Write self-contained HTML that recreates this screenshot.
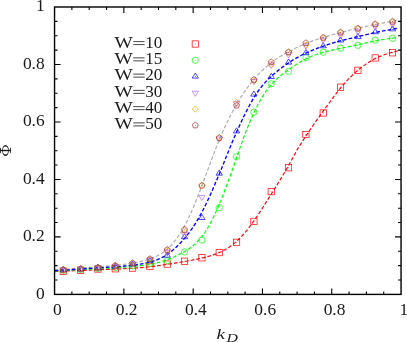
<!DOCTYPE html>
<html><head><meta charset="utf-8"><title>chart</title>
<style>html,body{margin:0;padding:0;background:#fff;overflow:hidden}svg{display:block}text{font-family:"Liberation Serif",serif;fill:#1a1a1a}g.tx{filter:grayscale(1)}</style></head><body>
<svg width="407" height="342" viewBox="0 0 407 342">
<rect x="0" y="0" width="407" height="342" fill="#ffffff"/>
<g fill="none" stroke-dasharray="3.7 2" stroke-linecap="butt">
<path d="M54.60,270.12 L56.03,269.99 L57.46,269.88 L58.89,269.76 L60.32,269.64 L61.75,269.53 L63.18,269.42 L64.61,269.31 L66.04,269.20 L67.47,269.09 L68.90,268.98 L70.33,268.88 L71.76,268.77 L73.19,268.66 L74.62,268.55 L76.05,268.44 L77.48,268.33 L78.91,268.22 L80.34,268.11 L81.76,268.00 L83.19,267.89 L84.62,267.77 L86.05,267.66 L87.48,267.55 L88.91,267.44 L90.34,267.33 L91.77,267.21 L93.20,267.10 L94.63,266.99 L96.06,266.88 L97.49,266.77 L98.92,266.66 L100.35,266.55 L101.78,266.44 L103.21,266.32 L104.64,266.21 L106.07,266.10 L107.50,265.98 L108.93,265.86 L110.36,265.74 L111.79,265.61 L113.22,265.49 L114.65,265.35 L116.08,265.22 L117.51,265.07 L118.94,264.92 L120.37,264.77 L121.80,264.61 L123.23,264.44 L124.66,264.26 L126.09,264.07 L127.52,263.87 L128.95,263.67 L130.38,263.45 L131.81,263.23 L133.23,262.99 L134.66,262.74 L136.09,262.47 L137.52,262.19 L138.95,261.90 L140.38,261.59 L141.81,261.26 L143.24,260.91 L144.67,260.53 L146.10,260.13 L147.53,259.70 L148.96,259.24 L150.39,258.75 L151.82,258.22 L153.25,257.65 L154.68,257.03 L156.11,256.37 L157.54,255.65 L158.97,254.88 L160.40,254.04 L161.83,253.14 L163.26,252.16 L164.69,251.11 L166.12,249.97 L167.55,248.75 L168.98,247.44 L170.41,246.03 L171.84,244.52 L173.27,242.91 L174.70,241.18 L176.13,239.33 L177.56,237.37 L178.99,235.28 L180.42,233.06 L181.85,230.72 L183.28,228.25 L184.70,225.64 L186.13,222.91 L187.56,220.05 L188.99,217.07 L190.42,213.96 L191.85,210.74 L193.28,207.42 L194.71,204.00 L196.14,200.50 L197.57,196.92 L199.00,193.28 L200.43,189.58 L201.86,185.85 L203.29,182.09 L204.72,178.31 L206.15,174.42 L207.58,170.48 L209.01,166.56 L210.44,162.68 L211.87,158.83 L213.30,155.04 L214.73,151.31 L216.16,147.64 L217.59,144.05 L219.02,140.54 L220.45,137.11 L221.88,133.77 L223.31,130.52 L224.74,127.35 L226.17,124.27 L227.60,121.28 L229.03,118.37 L230.46,115.55 L231.89,112.80 L233.32,110.13 L234.75,107.54 L236.18,105.02 L237.60,102.57 L239.03,100.19 L240.46,97.88 L241.89,95.63 L243.32,93.46 L244.75,91.36 L246.18,89.32 L247.61,87.34 L249.04,85.43 L250.47,83.58 L251.90,81.80 L253.33,80.07 L254.76,78.40 L256.19,76.78 L257.62,75.22 L259.05,73.71 L260.48,72.25 L261.91,70.83 L263.34,69.47 L264.77,68.15 L266.20,66.87 L267.63,65.64 L269.06,64.45 L270.49,63.30 L271.92,62.20 L273.35,61.13 L274.78,60.10 L276.21,59.11 L277.64,58.15 L279.07,57.22 L280.50,56.33 L281.93,55.45 L283.36,54.61 L284.79,53.78 L286.22,52.98 L287.65,52.19 L289.07,51.42 L290.50,50.67 L291.93,49.93 L293.36,49.20 L294.79,48.49 L296.22,47.79 L297.65,47.10 L299.08,46.44 L300.51,45.78 L301.94,45.14 L303.37,44.52 L304.80,43.92 L306.23,43.34 L307.66,42.77 L309.09,42.21 L310.52,41.68 L311.95,41.16 L313.38,40.65 L314.81,40.16 L316.24,39.68 L317.67,39.21 L319.10,38.75 L320.53,38.30 L321.96,37.85 L323.39,37.42 L324.82,36.99 L326.25,36.56 L327.68,36.14 L329.11,35.72 L330.54,35.31 L331.97,34.91 L333.40,34.51 L334.83,34.11 L336.26,33.72 L337.69,33.33 L339.12,32.95 L340.55,32.58 L341.97,32.20 L343.40,31.84 L344.83,31.48 L346.26,31.12 L347.69,30.76 L349.12,30.41 L350.55,30.06 L351.98,29.72 L353.41,29.37 L354.84,29.03 L356.27,28.69 L357.70,28.36 L359.13,28.02 L360.56,27.68 L361.99,27.35 L363.42,27.02 L364.85,26.70 L366.28,26.37 L367.71,26.05 L369.14,25.74 L370.57,25.43 L372.00,25.13 L373.43,24.83 L374.86,24.54 L376.29,24.26 L377.72,23.98 L379.15,23.70 L380.58,23.43 L382.01,23.17 L383.44,22.90 L384.87,22.64 L386.30,22.37 L387.73,22.11 L389.16,21.84 L390.59,21.57 L392.02,21.30 L393.44,21.02 L394.87,20.74 L396.30,20.46 L397.73,20.17" stroke="#ababab" stroke-width="1.15"/>
<path d="M54.60,271.59 L56.03,271.52 L57.46,271.46 L58.89,271.39 L60.32,271.33 L61.75,271.26 L63.18,271.20 L64.61,271.14 L66.04,271.07 L67.47,271.01 L68.90,270.95 L70.33,270.89 L71.76,270.83 L73.19,270.77 L74.62,270.72 L76.05,270.66 L77.48,270.60 L78.91,270.54 L80.34,270.48 L81.76,270.43 L83.19,270.37 L84.62,270.32 L86.05,270.26 L87.48,270.21 L88.91,270.15 L90.34,270.10 L91.77,270.05 L93.20,269.99 L94.63,269.94 L96.06,269.89 L97.49,269.84 L98.92,269.79 L100.35,269.73 L101.78,269.68 L103.21,269.63 L104.64,269.58 L106.07,269.52 L107.50,269.47 L108.93,269.41 L110.36,269.36 L111.79,269.30 L113.22,269.24 L114.65,269.18 L116.08,269.12 L117.51,269.06 L118.94,268.99 L120.37,268.93 L121.80,268.86 L123.23,268.79 L124.66,268.72 L126.09,268.64 L127.52,268.56 L128.95,268.48 L130.38,268.40 L131.81,268.31 L133.23,268.22 L134.66,268.12 L136.09,268.02 L137.52,267.91 L138.95,267.80 L140.38,267.68 L141.81,267.56 L143.24,267.43 L144.67,267.29 L146.10,267.15 L147.53,267.00 L148.96,266.84 L150.39,266.68 L151.82,266.51 L153.25,266.33 L154.68,266.15 L156.11,265.96 L157.54,265.76 L158.97,265.56 L160.40,265.35 L161.83,265.14 L163.26,264.93 L164.69,264.71 L166.12,264.49 L167.55,264.27 L168.98,264.04 L170.41,263.81 L171.84,263.59 L173.27,263.36 L174.70,263.13 L176.13,262.90 L177.56,262.67 L178.99,262.43 L180.42,262.20 L181.85,261.96 L183.28,261.72 L184.70,261.48 L186.13,261.23 L187.56,260.98 L188.99,260.73 L190.42,260.47 L191.85,260.21 L193.28,259.93 L194.71,259.66 L196.14,259.37 L197.57,259.07 L199.00,258.77 L200.43,258.45 L201.86,258.12 L203.29,257.78 L204.72,257.42 L206.15,257.04 L207.58,256.65 L209.01,256.24 L210.44,255.81 L211.87,255.35 L213.30,254.86 L214.73,254.35 L216.16,253.81 L217.59,253.24 L219.02,252.63 L220.45,251.98 L221.88,251.29 L223.31,250.56 L224.74,249.79 L226.17,248.97 L227.60,248.09 L229.03,247.17 L230.46,246.18 L231.89,245.14 L233.32,244.04 L234.75,242.88 L236.18,241.65 L237.60,240.35 L239.03,238.99 L240.46,237.57 L241.89,236.07 L243.32,234.51 L244.75,232.88 L246.18,231.19 L247.61,229.43 L249.04,227.61 L250.47,225.72 L251.90,223.79 L253.33,221.79 L254.76,219.75 L256.19,217.66 L257.62,215.53 L259.05,213.36 L260.48,211.17 L261.91,208.94 L263.34,206.70 L264.77,204.44 L266.20,202.17 L267.63,199.89 L269.06,197.61 L270.49,195.33 L271.92,193.05 L273.35,190.77 L274.78,188.49 L276.21,186.21 L277.64,183.91 L279.07,181.60 L280.50,179.27 L281.93,176.92 L283.36,174.54 L284.79,172.13 L286.22,169.69 L287.65,167.20 L289.07,164.68 L290.50,162.13 L291.93,159.53 L293.36,156.91 L294.79,154.26 L296.22,151.59 L297.65,148.91 L299.08,146.62 L300.51,144.38 L301.94,142.14 L303.37,139.92 L304.80,137.71 L306.23,135.53 L307.66,133.37 L309.09,131.24 L310.52,129.13 L311.95,127.05 L313.38,124.99 L314.81,122.94 L316.24,120.92 L317.67,118.91 L319.10,116.90 L320.53,114.90 L321.96,112.91 L323.39,110.92 L324.82,108.93 L326.25,106.95 L327.68,104.97 L329.11,103.00 L330.54,101.05 L331.97,99.11 L333.40,97.18 L334.83,95.29 L336.26,93.42 L337.69,91.58 L339.12,89.79 L340.55,88.03 L341.97,86.31 L343.40,84.64 L344.83,83.02 L346.26,81.44 L347.69,79.91 L349.12,78.42 L350.55,76.98 L351.98,75.58 L353.41,74.23 L354.84,72.92 L356.27,71.65 L357.70,70.42 L359.13,69.23 L360.56,68.09 L361.99,66.98 L363.42,65.90 L364.85,64.87 L366.28,63.88 L367.71,62.93 L369.14,62.02 L370.57,61.15 L372.00,60.32 L373.43,59.53 L374.86,58.79 L376.29,58.08 L377.72,57.41 L379.15,56.77 L380.58,56.17 L382.01,55.60 L383.44,55.07 L384.87,54.56 L386.30,54.07 L387.73,53.61 L389.16,53.17 L390.59,52.75 L392.02,52.34 L393.44,51.96 L394.87,51.58 L396.30,51.22 L397.73,50.87" stroke="#ff0000" stroke-width="1.15"/>
<path d="M54.60,271.07 L56.03,270.98 L57.46,270.89 L58.89,270.81 L60.32,270.72 L61.75,270.64 L63.18,270.56 L64.61,270.48 L66.04,270.40 L67.47,270.32 L68.90,270.24 L70.33,270.17 L71.76,270.09 L73.19,270.01 L74.62,269.93 L76.05,269.86 L77.48,269.78 L78.91,269.70 L80.34,269.62 L81.76,269.54 L83.19,269.47 L84.62,269.39 L86.05,269.31 L87.48,269.24 L88.91,269.16 L90.34,269.08 L91.77,269.01 L93.20,268.93 L94.63,268.86 L96.06,268.78 L97.49,268.71 L98.92,268.63 L100.35,268.56 L101.78,268.48 L103.21,268.41 L104.64,268.33 L106.07,268.26 L107.50,268.18 L108.93,268.10 L110.36,268.02 L111.79,267.94 L113.22,267.85 L114.65,267.76 L116.08,267.68 L117.51,267.58 L118.94,267.49 L120.37,267.39 L121.80,267.29 L123.23,267.19 L124.66,267.08 L126.09,266.97 L127.52,266.85 L128.95,266.73 L130.38,266.61 L131.81,266.48 L133.23,266.34 L134.66,266.20 L136.09,266.06 L137.52,265.91 L138.95,265.76 L140.38,265.59 L141.81,265.42 L143.24,265.25 L144.67,265.06 L146.10,264.86 L147.53,264.65 L148.96,264.43 L150.39,264.19 L151.82,263.94 L153.25,263.66 L154.68,263.36 L156.11,263.05 L157.54,262.70 L158.97,262.33 L160.40,261.93 L161.83,261.51 L163.26,261.06 L164.69,260.58 L166.12,260.07 L167.55,259.53 L168.98,258.98 L170.41,258.40 L171.84,257.79 L173.27,257.17 L174.70,256.53 L176.13,255.87 L177.56,255.18 L178.99,254.48 L180.42,253.75 L181.85,253.00 L183.28,252.22 L184.70,251.41 L186.13,250.56 L187.56,249.66 L188.99,248.71 L190.42,247.70 L191.85,246.62 L193.28,245.47 L194.71,244.24 L196.14,242.91 L197.57,241.49 L199.00,239.95 L200.43,238.31 L201.86,236.54 L203.29,234.64 L204.72,232.62 L206.15,230.45 L207.58,228.15 L209.01,225.71 L210.44,223.13 L211.87,220.41 L213.30,217.55 L214.73,214.56 L216.16,211.45 L217.59,208.21 L219.02,204.86 L220.45,201.40 L221.88,197.85 L223.31,194.21 L224.74,190.50 L226.17,186.71 L227.60,182.87 L229.03,178.98 L230.46,175.06 L231.89,171.12 L233.32,167.15 L234.75,162.99 L236.18,158.85 L237.60,154.72 L239.03,150.64 L240.46,146.60 L241.89,142.62 L243.32,138.72 L244.75,134.89 L246.18,131.15 L247.61,127.51 L249.04,123.98 L250.47,120.56 L251.90,117.25 L253.33,114.07 L254.76,111.01 L256.19,108.08 L257.62,105.27 L259.05,102.59 L260.48,100.04 L261.91,97.61 L263.34,95.31 L264.77,93.13 L266.20,91.07 L267.63,89.12 L269.06,87.29 L270.49,85.56 L271.92,83.92 L273.35,82.39 L274.78,80.93 L276.21,79.56 L277.64,78.25 L279.07,77.00 L280.50,75.81 L281.93,74.66 L283.36,73.55 L284.79,72.47 L286.22,71.42 L287.65,70.38 L289.07,69.36 L290.50,68.36 L291.93,67.37 L293.36,66.40 L294.79,65.45 L296.22,64.51 L297.65,63.59 L299.08,62.70 L300.51,61.83 L301.94,60.99 L303.37,60.18 L304.80,59.41 L306.23,58.67 L307.66,57.97 L309.09,57.30 L310.52,56.67 L311.95,56.07 L313.38,55.51 L314.81,54.98 L316.24,54.47 L317.67,53.99 L319.10,53.53 L320.53,53.10 L321.96,52.68 L323.39,52.29 L324.82,51.90 L326.25,51.53 L327.68,51.17 L329.11,50.82 L330.54,50.49 L331.97,50.16 L333.40,49.84 L334.83,49.52 L336.26,49.22 L337.69,48.92 L339.12,48.62 L340.55,48.33 L341.97,48.05 L343.40,47.76 L344.83,47.48 L346.26,47.20 L347.69,46.91 L349.12,46.63 L350.55,46.34 L351.98,46.05 L353.41,45.75 L354.84,45.45 L356.27,45.14 L357.70,44.82 L359.13,44.50 L360.56,44.18 L361.99,43.85 L363.42,43.51 L364.85,43.18 L366.28,42.85 L367.71,42.52 L369.14,42.19 L370.57,41.87 L372.00,41.56 L373.43,41.26 L374.86,40.97 L376.29,40.69 L377.72,40.42 L379.15,40.17 L380.58,39.92 L382.01,39.68 L383.44,39.45 L384.87,39.23 L386.30,39.01 L387.73,38.80 L389.16,38.59 L390.59,38.38 L392.02,38.16 L393.44,37.95 L394.87,37.73 L396.30,37.50 L397.73,37.27" stroke="#00ff00" stroke-width="1.15"/>
<path d="M54.60,270.61 L56.03,270.54 L57.46,270.47 L58.89,270.39 L60.32,270.31 L61.75,270.23 L63.18,270.15 L64.61,270.07 L66.04,269.99 L67.47,269.90 L68.90,269.81 L70.33,269.72 L71.76,269.63 L73.19,269.54 L74.62,269.45 L76.05,269.35 L77.48,269.26 L78.91,269.16 L80.34,269.07 L81.76,268.97 L83.19,268.87 L84.62,268.78 L86.05,268.68 L87.48,268.58 L88.91,268.49 L90.34,268.39 L91.77,268.30 L93.20,268.20 L94.63,268.11 L96.06,268.01 L97.49,267.92 L98.92,267.83 L100.35,267.74 L101.78,267.65 L103.21,267.56 L104.64,267.47 L106.07,267.38 L107.50,267.29 L108.93,267.20 L110.36,267.10 L111.79,267.01 L113.22,266.92 L114.65,266.82 L116.08,266.72 L117.51,266.61 L118.94,266.50 L120.37,266.39 L121.80,266.28 L123.23,266.15 L124.66,266.03 L126.09,265.89 L127.52,265.75 L128.95,265.60 L130.38,265.45 L131.81,265.28 L133.23,265.11 L134.66,264.93 L136.09,264.73 L137.52,264.53 L138.95,264.31 L140.38,264.09 L141.81,263.84 L143.24,263.59 L144.67,263.31 L146.10,263.01 L147.53,262.70 L148.96,262.35 L150.39,261.98 L151.82,261.58 L153.25,261.14 L154.68,260.67 L156.11,260.15 L157.54,259.58 L158.97,258.97 L160.40,258.31 L161.83,257.59 L163.26,256.81 L164.69,255.98 L166.12,255.09 L167.55,254.13 L168.98,253.12 L170.41,252.05 L171.84,250.92 L173.27,249.74 L174.70,248.49 L176.13,247.19 L177.56,245.83 L178.99,244.42 L180.42,242.95 L181.85,241.41 L183.28,239.82 L184.70,238.17 L186.13,236.44 L187.56,234.65 L188.99,232.79 L190.42,230.85 L191.85,228.83 L193.28,226.73 L194.71,224.55 L196.14,222.27 L197.57,219.90 L199.00,217.44 L200.43,214.88 L201.86,212.23 L203.29,209.49 L204.72,206.66 L206.15,203.74 L207.58,200.74 L209.01,197.66 L210.44,194.52 L211.87,191.31 L213.30,188.05 L214.73,184.75 L216.16,181.41 L217.59,178.05 L219.02,174.68 L220.45,171.30 L221.88,167.78 L223.31,164.15 L224.74,160.54 L226.17,156.96 L227.60,153.41 L229.03,149.90 L230.46,146.43 L231.89,143.01 L233.32,139.64 L234.75,136.32 L236.18,133.04 L237.60,129.82 L239.03,126.66 L240.46,123.55 L241.89,120.49 L243.32,117.50 L244.75,114.57 L246.18,111.71 L247.61,108.93 L249.04,106.23 L250.47,103.61 L251.90,101.09 L253.33,98.66 L254.76,96.33 L256.19,94.11 L257.62,91.99 L259.05,89.97 L260.48,88.05 L261.91,86.23 L263.34,84.50 L264.77,82.86 L266.20,81.30 L267.63,79.81 L269.06,78.39 L270.49,77.03 L271.92,75.72 L273.35,74.45 L274.78,73.23 L276.21,72.04 L277.64,70.89 L279.07,69.76 L280.50,68.66 L281.93,67.58 L283.36,66.53 L284.79,65.49 L286.22,64.48 L287.65,63.50 L289.07,62.54 L290.50,61.60 L291.93,60.69 L293.36,59.80 L294.79,58.94 L296.22,58.10 L297.65,57.29 L299.08,56.51 L300.51,55.75 L301.94,55.02 L303.37,54.31 L304.80,53.62 L306.23,52.95 L307.66,52.31 L309.09,51.68 L310.52,51.06 L311.95,50.46 L313.38,49.88 L314.81,49.31 L316.24,48.75 L317.67,48.20 L319.10,47.67 L320.53,47.14 L321.96,46.63 L323.39,46.12 L324.82,45.63 L326.25,45.14 L327.68,44.67 L329.11,44.20 L330.54,43.74 L331.97,43.30 L333.40,42.86 L334.83,42.44 L336.26,42.02 L337.69,41.62 L339.12,41.22 L340.55,40.84 L341.97,40.47 L343.40,40.10 L344.83,39.74 L346.26,39.39 L347.69,39.05 L349.12,38.71 L350.55,38.37 L351.98,38.04 L353.41,37.70 L354.84,37.36 L356.27,37.03 L357.70,36.69 L359.13,36.35 L360.56,36.01 L361.99,35.66 L363.42,35.32 L364.85,34.98 L366.28,34.63 L367.71,34.29 L369.14,33.95 L370.57,33.62 L372.00,33.29 L373.43,32.96 L374.86,32.65 L376.29,32.34 L377.72,32.03 L379.15,31.74 L380.58,31.45 L382.01,31.17 L383.44,30.89 L384.87,30.62 L386.30,30.35 L387.73,30.09 L389.16,29.82 L390.59,29.56 L392.02,29.30 L393.44,29.04 L394.87,28.78 L396.30,28.51 L397.73,28.24" stroke="#0000ff" stroke-width="1.35"/>
</g>
<g fill="none" stroke="#ff0000" stroke-width="0.7">
<rect x="60.12" y="268.10" width="6.30" height="6.30"/><circle cx="63.27" cy="271.25" r="0.45" fill="#ff0000" stroke="none"/>
<rect x="77.44" y="267.04" width="6.30" height="6.30"/><circle cx="80.59" cy="270.19" r="0.45" fill="#ff0000" stroke="none"/>
<rect x="94.78" y="265.86" width="6.30" height="6.30"/><circle cx="97.93" cy="269.01" r="0.45" fill="#ff0000" stroke="none"/>
<rect x="112.11" y="265.66" width="6.30" height="6.30"/><circle cx="115.26" cy="268.81" r="0.45" fill="#ff0000" stroke="none"/>
<rect x="129.44" y="264.95" width="6.30" height="6.30"/><circle cx="132.59" cy="268.10" r="0.45" fill="#ff0000" stroke="none"/>
<rect x="146.77" y="263.23" width="6.30" height="6.30"/><circle cx="149.92" cy="266.38" r="0.45" fill="#ff0000" stroke="none"/>
<rect x="164.10" y="260.93" width="6.30" height="6.30"/><circle cx="167.25" cy="264.08" r="0.45" fill="#ff0000" stroke="none"/>
<rect x="181.43" y="258.07" width="6.30" height="6.30"/><circle cx="184.58" cy="261.22" r="0.45" fill="#ff0000" stroke="none"/>
<rect x="198.76" y="254.63" width="6.30" height="6.30"/><circle cx="201.91" cy="257.78" r="0.45" fill="#ff0000" stroke="none"/>
<rect x="216.09" y="249.47" width="6.30" height="6.30"/><circle cx="219.24" cy="252.62" r="0.45" fill="#ff0000" stroke="none"/>
<rect x="233.42" y="239.14" width="6.30" height="6.30"/><circle cx="236.57" cy="242.29" r="0.45" fill="#ff0000" stroke="none"/>
<rect x="250.75" y="218.21" width="6.30" height="6.30"/><circle cx="253.90" cy="221.36" r="0.45" fill="#ff0000" stroke="none"/>
<rect x="268.08" y="188.54" width="6.30" height="6.30"/><circle cx="271.23" cy="191.69" r="0.45" fill="#ff0000" stroke="none"/>
<rect x="285.41" y="164.60" width="6.30" height="6.30"/><circle cx="288.56" cy="167.75" r="0.45" fill="#ff0000" stroke="none"/>
<rect x="302.74" y="131.34" width="6.30" height="6.30"/><circle cx="305.89" cy="134.49" r="0.45" fill="#ff0000" stroke="none"/>
<rect x="320.07" y="109.84" width="6.30" height="6.30"/><circle cx="323.22" cy="112.99" r="0.45" fill="#ff0000" stroke="none"/>
<rect x="337.40" y="84.04" width="6.30" height="6.30"/><circle cx="340.55" cy="87.19" r="0.45" fill="#ff0000" stroke="none"/>
<rect x="354.73" y="67.12" width="6.30" height="6.30"/><circle cx="357.88" cy="70.27" r="0.45" fill="#ff0000" stroke="none"/>
<rect x="372.06" y="54.80" width="6.30" height="6.30"/><circle cx="375.21" cy="57.95" r="0.45" fill="#ff0000" stroke="none"/>
<rect x="389.39" y="49.64" width="6.30" height="6.30"/><circle cx="392.54" cy="52.79" r="0.45" fill="#ff0000" stroke="none"/>
</g>
<g fill="none" stroke="#00ff00" stroke-width="0.7">
<circle cx="63.27" cy="270.39" r="3.15"/><circle cx="63.27" cy="270.39" r="0.45" fill="#00ff00" stroke="none"/>
<circle cx="80.59" cy="269.53" r="3.15"/><circle cx="80.59" cy="269.53" r="0.45" fill="#00ff00" stroke="none"/>
<circle cx="97.93" cy="268.38" r="3.15"/><circle cx="97.93" cy="268.38" r="0.45" fill="#00ff00" stroke="none"/>
<circle cx="115.26" cy="267.52" r="3.15"/><circle cx="115.26" cy="267.52" r="0.45" fill="#00ff00" stroke="none"/>
<circle cx="132.59" cy="265.80" r="3.15"/><circle cx="132.59" cy="265.80" r="0.45" fill="#00ff00" stroke="none"/>
<circle cx="149.92" cy="263.51" r="3.15"/><circle cx="149.92" cy="263.51" r="0.45" fill="#00ff00" stroke="none"/>
<circle cx="167.25" cy="260.64" r="3.15"/><circle cx="167.25" cy="260.64" r="0.45" fill="#00ff00" stroke="none"/>
<circle cx="184.58" cy="251.90" r="3.15"/><circle cx="184.58" cy="251.90" r="0.45" fill="#00ff00" stroke="none"/>
<circle cx="201.91" cy="240.00" r="3.15"/><circle cx="201.91" cy="240.00" r="0.45" fill="#00ff00" stroke="none"/>
<circle cx="219.24" cy="207.60" r="3.15"/><circle cx="219.24" cy="207.60" r="0.45" fill="#00ff00" stroke="none"/>
<circle cx="236.57" cy="156.57" r="3.15"/><circle cx="236.57" cy="156.57" r="0.45" fill="#00ff00" stroke="none"/>
<circle cx="253.90" cy="112.13" r="3.15"/><circle cx="253.90" cy="112.13" r="0.45" fill="#00ff00" stroke="none"/>
<circle cx="271.23" cy="83.75" r="3.15"/><circle cx="271.23" cy="83.75" r="0.45" fill="#00ff00" stroke="none"/>
<circle cx="288.56" cy="71.42" r="3.15"/><circle cx="288.56" cy="71.42" r="0.45" fill="#00ff00" stroke="none"/>
<circle cx="305.89" cy="57.66" r="3.15"/><circle cx="305.89" cy="57.66" r="0.45" fill="#00ff00" stroke="none"/>
<circle cx="323.22" cy="52.21" r="3.15"/><circle cx="323.22" cy="52.21" r="0.45" fill="#00ff00" stroke="none"/>
<circle cx="340.55" cy="48.20" r="3.15"/><circle cx="340.55" cy="48.20" r="0.45" fill="#00ff00" stroke="none"/>
<circle cx="357.88" cy="45.33" r="3.15"/><circle cx="357.88" cy="45.33" r="0.45" fill="#00ff00" stroke="none"/>
<circle cx="375.21" cy="40.17" r="3.15"/><circle cx="375.21" cy="40.17" r="0.45" fill="#00ff00" stroke="none"/>
<circle cx="392.54" cy="38.31" r="3.15"/><circle cx="392.54" cy="38.31" r="0.45" fill="#00ff00" stroke="none"/>
</g>
<g fill="none" stroke="#0000ff" stroke-width="0.7">
<path d="M63.27,266.58 L60.12,271.68 L66.42,271.68 Z"/><circle cx="63.27" cy="270.10" r="0.45" fill="#0000ff" stroke="none"/>
<path d="M80.59,265.72 L77.44,270.82 L83.75,270.82 Z"/><circle cx="80.59" cy="269.24" r="0.45" fill="#0000ff" stroke="none"/>
<path d="M97.93,264.57 L94.78,269.67 L101.08,269.67 Z"/><circle cx="97.93" cy="268.10" r="0.45" fill="#0000ff" stroke="none"/>
<path d="M115.26,263.14 L112.11,268.24 L118.41,268.24 Z"/><circle cx="115.26" cy="266.66" r="0.45" fill="#0000ff" stroke="none"/>
<path d="M132.59,260.99 L129.44,266.09 L135.74,266.09 Z"/><circle cx="132.59" cy="264.51" r="0.45" fill="#0000ff" stroke="none"/>
<path d="M149.92,257.40 L146.77,262.50 L153.07,262.50 Z"/><circle cx="149.92" cy="260.93" r="0.45" fill="#0000ff" stroke="none"/>
<path d="M167.25,252.07 L164.10,257.17 L170.40,257.17 Z"/><circle cx="167.25" cy="255.60" r="0.45" fill="#0000ff" stroke="none"/>
<path d="M184.58,233.61 L181.43,238.71 L187.73,238.71 Z"/><circle cx="184.58" cy="237.13" r="0.45" fill="#0000ff" stroke="none"/>
<path d="M201.91,214.40 L198.76,219.50 L205.06,219.50 Z"/><circle cx="201.91" cy="217.92" r="0.45" fill="#0000ff" stroke="none"/>
<path d="M219.24,170.07 L216.09,175.18 L222.39,175.18 Z"/><circle cx="219.24" cy="173.60" r="0.45" fill="#0000ff" stroke="none"/>
<path d="M236.57,127.81 L233.42,132.92 L239.72,132.92 Z"/><circle cx="236.57" cy="131.34" r="0.45" fill="#0000ff" stroke="none"/>
<path d="M253.90,90.97 L250.75,96.08 L257.05,96.08 Z"/><circle cx="253.90" cy="94.50" r="0.45" fill="#0000ff" stroke="none"/>
<path d="M271.23,73.34 L268.08,78.44 L274.38,78.44 Z"/><circle cx="271.23" cy="76.87" r="0.45" fill="#0000ff" stroke="none"/>
<path d="M288.56,59.01 L285.41,64.11 L291.71,64.11 Z"/><circle cx="288.56" cy="62.53" r="0.45" fill="#0000ff" stroke="none"/>
<path d="M305.89,49.54 L302.74,54.65 L309.04,54.65 Z"/><circle cx="305.89" cy="53.07" r="0.45" fill="#0000ff" stroke="none"/>
<path d="M323.22,42.66 L320.07,47.77 L326.37,47.77 Z"/><circle cx="323.22" cy="46.19" r="0.45" fill="#0000ff" stroke="none"/>
<path d="M340.55,36.93 L337.40,42.03 L343.70,42.03 Z"/><circle cx="340.55" cy="40.46" r="0.45" fill="#0000ff" stroke="none"/>
<path d="M357.88,33.49 L354.73,38.59 L361.03,38.59 Z"/><circle cx="357.88" cy="37.02" r="0.45" fill="#0000ff" stroke="none"/>
<path d="M375.21,28.61 L372.06,33.72 L378.36,33.72 Z"/><circle cx="375.21" cy="32.14" r="0.45" fill="#0000ff" stroke="none"/>
<path d="M392.54,25.75 L389.39,30.85 L395.69,30.85 Z"/><circle cx="392.54" cy="29.28" r="0.45" fill="#0000ff" stroke="none"/>
</g>
<g fill="none" stroke="#b868ff" stroke-width="0.7">
<path d="M63.27,273.35 L60.12,268.24 L66.42,268.24 Z"/><circle cx="63.27" cy="269.82" r="0.45" fill="#b868ff" stroke="none"/>
<path d="M80.59,272.49 L77.44,267.38 L83.75,267.38 Z"/><circle cx="80.59" cy="268.96" r="0.45" fill="#b868ff" stroke="none"/>
<path d="M97.93,271.34 L94.78,266.24 L101.08,266.24 Z"/><circle cx="97.93" cy="267.81" r="0.45" fill="#b868ff" stroke="none"/>
<path d="M115.26,269.62 L112.11,264.52 L118.41,264.52 Z"/><circle cx="115.26" cy="266.09" r="0.45" fill="#b868ff" stroke="none"/>
<path d="M132.59,267.32 L129.44,262.22 L135.74,262.22 Z"/><circle cx="132.59" cy="263.80" r="0.45" fill="#b868ff" stroke="none"/>
<path d="M149.92,263.02 L146.77,257.92 L153.07,257.92 Z"/><circle cx="149.92" cy="259.50" r="0.45" fill="#b868ff" stroke="none"/>
<path d="M167.25,255.43 L164.10,250.32 L170.40,250.32 Z"/><circle cx="167.25" cy="251.90" r="0.45" fill="#b868ff" stroke="none"/>
<path d="M184.58,237.79 L181.43,232.69 L187.73,232.69 Z"/><circle cx="184.58" cy="234.27" r="0.45" fill="#b868ff" stroke="none"/>
<path d="M201.91,200.52 L198.76,195.42 L205.06,195.42 Z"/><circle cx="201.91" cy="197.00" r="0.45" fill="#b868ff" stroke="none"/>
<path d="M219.24,142.04 L216.09,136.93 L222.39,136.93 Z"/><circle cx="219.24" cy="138.51" r="0.45" fill="#b868ff" stroke="none"/>
<path d="M236.57,106.63 L233.42,101.53 L239.72,101.53 Z"/><circle cx="236.57" cy="103.10" r="0.45" fill="#b868ff" stroke="none"/>
<path d="M253.90,84.70 L250.75,79.59 L257.05,79.59 Z"/><circle cx="253.90" cy="81.17" r="0.45" fill="#b868ff" stroke="none"/>
<path d="M271.23,68.35 L268.08,63.25 L274.38,63.25 Z"/><circle cx="271.23" cy="64.83" r="0.45" fill="#b868ff" stroke="none"/>
<path d="M288.56,57.75 L285.41,52.64 L291.71,52.64 Z"/><circle cx="288.56" cy="54.22" r="0.45" fill="#b868ff" stroke="none"/>
<path d="M305.89,49.15 L302.74,44.04 L309.04,44.04 Z"/><circle cx="305.89" cy="45.62" r="0.45" fill="#b868ff" stroke="none"/>
<path d="M323.22,43.41 L320.07,38.31 L326.37,38.31 Z"/><circle cx="323.22" cy="39.88" r="0.45" fill="#b868ff" stroke="none"/>
<path d="M340.55,38.54 L337.40,33.43 L343.70,33.43 Z"/><circle cx="340.55" cy="35.01" r="0.45" fill="#b868ff" stroke="none"/>
<path d="M357.88,34.93 L354.73,29.82 L361.03,29.82 Z"/><circle cx="357.88" cy="31.40" r="0.45" fill="#b868ff" stroke="none"/>
<path d="M375.21,30.22 L372.06,25.12 L378.36,25.12 Z"/><circle cx="375.21" cy="26.70" r="0.45" fill="#b868ff" stroke="none"/>
<path d="M392.54,27.64 L389.39,22.54 L395.69,22.54 Z"/><circle cx="392.54" cy="24.12" r="0.45" fill="#b868ff" stroke="none"/>
</g>
<g fill="none" stroke="#ffa500" stroke-width="0.7">
<path d="M63.27,266.67 L60.12,269.82 L63.27,272.97 L66.42,269.82 Z"/><circle cx="63.27" cy="269.82" r="0.45" fill="#ffa500" stroke="none"/>
<path d="M80.59,265.81 L77.44,268.96 L80.59,272.11 L83.75,268.96 Z"/><circle cx="80.59" cy="268.96" r="0.45" fill="#ffa500" stroke="none"/>
<path d="M97.93,264.52 L94.78,267.67 L97.93,270.82 L101.08,267.67 Z"/><circle cx="97.93" cy="267.67" r="0.45" fill="#ffa500" stroke="none"/>
<path d="M115.26,262.65 L112.11,265.80 L115.26,268.95 L118.41,265.80 Z"/><circle cx="115.26" cy="265.80" r="0.45" fill="#ffa500" stroke="none"/>
<path d="M132.59,260.36 L129.44,263.51 L132.59,266.66 L135.74,263.51 Z"/><circle cx="132.59" cy="263.51" r="0.45" fill="#ffa500" stroke="none"/>
<path d="M149.92,256.06 L146.77,259.21 L149.92,262.36 L153.07,259.21 Z"/><circle cx="149.92" cy="259.21" r="0.45" fill="#ffa500" stroke="none"/>
<path d="M167.25,247.17 L164.10,250.32 L167.25,253.47 L170.40,250.32 Z"/><circle cx="167.25" cy="250.32" r="0.45" fill="#ffa500" stroke="none"/>
<path d="M184.58,227.68 L181.43,230.83 L184.58,233.98 L187.73,230.83 Z"/><circle cx="184.58" cy="230.83" r="0.45" fill="#ffa500" stroke="none"/>
<path d="M201.91,182.38 L198.76,185.53 L201.91,188.68 L205.06,185.53 Z"/><circle cx="201.91" cy="185.53" r="0.45" fill="#ffa500" stroke="none"/>
<path d="M219.24,134.21 L216.09,137.36 L219.24,140.51 L222.39,137.36 Z"/><circle cx="219.24" cy="137.36" r="0.45" fill="#ffa500" stroke="none"/>
<path d="M236.57,99.52 L233.42,102.67 L236.57,105.82 L239.72,102.67 Z"/><circle cx="236.57" cy="102.67" r="0.45" fill="#ffa500" stroke="none"/>
<path d="M253.90,77.73 L250.75,80.88 L253.90,84.03 L257.05,80.88 Z"/><circle cx="253.90" cy="80.88" r="0.45" fill="#ffa500" stroke="none"/>
<path d="M271.23,61.39 L268.08,64.54 L271.23,67.69 L274.38,64.54 Z"/><circle cx="271.23" cy="64.54" r="0.45" fill="#ffa500" stroke="none"/>
<path d="M288.56,49.06 L285.41,52.21 L288.56,55.36 L291.71,52.21 Z"/><circle cx="288.56" cy="52.21" r="0.45" fill="#ffa500" stroke="none"/>
<path d="M305.89,41.75 L302.74,44.90 L305.89,48.05 L309.04,44.90 Z"/><circle cx="305.89" cy="44.90" r="0.45" fill="#ffa500" stroke="none"/>
<path d="M323.22,35.01 L320.07,38.16 L323.22,41.31 L326.37,38.16 Z"/><circle cx="323.22" cy="38.16" r="0.45" fill="#ffa500" stroke="none"/>
<path d="M340.55,29.85 L337.40,33.00 L340.55,36.15 L343.70,33.00 Z"/><circle cx="340.55" cy="33.00" r="0.45" fill="#ffa500" stroke="none"/>
<path d="M357.88,25.84 L354.73,28.99 L357.88,32.14 L361.03,28.99 Z"/><circle cx="357.88" cy="28.99" r="0.45" fill="#ffa500" stroke="none"/>
<path d="M375.21,21.54 L372.06,24.69 L375.21,27.84 L378.36,24.69 Z"/><circle cx="375.21" cy="24.69" r="0.45" fill="#ffa500" stroke="none"/>
<path d="M392.54,18.96 L389.39,22.11 L392.54,25.26 L395.69,22.11 Z"/><circle cx="392.54" cy="22.11" r="0.45" fill="#ffa500" stroke="none"/>
</g>
<g fill="none" stroke="#a52a2a" stroke-width="0.7">
<path d="M63.27,266.55 L66.26,268.73 L65.12,272.25 L61.41,272.25 L60.27,268.73 Z"/><circle cx="63.27" cy="269.70" r="0.45" fill="#a52a2a" stroke="none"/>
<path d="M80.59,265.69 L83.59,267.87 L82.45,271.39 L78.74,271.39 L77.60,267.87 Z"/><circle cx="80.59" cy="268.84" r="0.45" fill="#a52a2a" stroke="none"/>
<path d="M97.93,264.37 L100.92,266.55 L99.78,270.07 L96.07,270.07 L94.93,266.55 Z"/><circle cx="97.93" cy="267.52" r="0.45" fill="#a52a2a" stroke="none"/>
<path d="M115.26,262.37 L118.25,264.54 L117.11,268.07 L113.40,268.07 L112.26,264.54 Z"/><circle cx="115.26" cy="265.52" r="0.45" fill="#a52a2a" stroke="none"/>
<path d="M132.59,260.07 L135.58,262.25 L134.44,265.77 L130.73,265.77 L129.59,262.25 Z"/><circle cx="132.59" cy="263.22" r="0.45" fill="#a52a2a" stroke="none"/>
<path d="M149.92,255.77 L152.91,257.95 L151.77,261.47 L148.06,261.47 L146.92,257.95 Z"/><circle cx="149.92" cy="258.92" r="0.45" fill="#a52a2a" stroke="none"/>
<path d="M167.25,246.60 L170.24,248.77 L169.10,252.30 L165.39,252.30 L164.25,248.77 Z"/><circle cx="167.25" cy="249.75" r="0.45" fill="#a52a2a" stroke="none"/>
<path d="M184.58,226.53 L187.57,228.71 L186.43,232.23 L182.72,232.23 L181.58,228.71 Z"/><circle cx="184.58" cy="229.68" r="0.45" fill="#a52a2a" stroke="none"/>
<path d="M201.91,182.38 L204.90,184.55 L203.76,188.08 L200.05,188.08 L198.91,184.55 Z"/><circle cx="201.91" cy="185.53" r="0.45" fill="#a52a2a" stroke="none"/>
<path d="M219.24,134.79 L222.23,136.96 L221.09,140.48 L217.38,140.48 L216.24,136.96 Z"/><circle cx="219.24" cy="137.94" r="0.45" fill="#a52a2a" stroke="none"/>
<path d="M236.57,102.39 L239.56,104.56 L238.42,108.09 L234.71,108.09 L233.57,104.56 Z"/><circle cx="236.57" cy="105.54" r="0.45" fill="#a52a2a" stroke="none"/>
<path d="M253.90,76.59 L256.89,78.76 L255.75,82.28 L252.04,82.28 L250.90,78.76 Z"/><circle cx="253.90" cy="79.74" r="0.45" fill="#a52a2a" stroke="none"/>
<path d="M271.23,58.95 L274.22,61.13 L273.08,64.65 L269.37,64.65 L268.23,61.13 Z"/><circle cx="271.23" cy="62.10" r="0.45" fill="#a52a2a" stroke="none"/>
<path d="M288.56,49.06 L291.55,51.24 L290.41,54.76 L286.70,54.76 L285.56,51.24 Z"/><circle cx="288.56" cy="52.21" r="0.45" fill="#a52a2a" stroke="none"/>
<path d="M305.89,39.89 L308.88,42.06 L307.74,45.59 L304.03,45.59 L302.89,42.06 Z"/><circle cx="305.89" cy="43.04" r="0.45" fill="#a52a2a" stroke="none"/>
<path d="M323.22,34.44 L326.21,36.62 L325.07,40.14 L321.36,40.14 L320.22,36.62 Z"/><circle cx="323.22" cy="37.59" r="0.45" fill="#a52a2a" stroke="none"/>
<path d="M340.55,29.28 L343.54,31.46 L342.40,34.98 L338.69,34.98 L337.55,31.46 Z"/><circle cx="340.55" cy="32.43" r="0.45" fill="#a52a2a" stroke="none"/>
<path d="M357.88,25.27 L360.87,27.44 L359.73,30.96 L356.02,30.96 L354.88,27.44 Z"/><circle cx="357.88" cy="28.42" r="0.45" fill="#a52a2a" stroke="none"/>
<path d="M375.21,20.97 L378.20,23.14 L377.06,26.66 L373.35,26.66 L372.21,23.14 Z"/><circle cx="375.21" cy="24.12" r="0.45" fill="#a52a2a" stroke="none"/>
<path d="M392.54,18.39 L395.53,20.56 L394.39,24.08 L390.68,24.08 L389.54,20.56 Z"/><circle cx="392.54" cy="21.54" r="0.45" fill="#a52a2a" stroke="none"/>
</g>
<g fill="none" stroke="#ff0000" stroke-width="0.7"><rect x="192.15" y="40.85" width="6.30" height="6.30"/><circle cx="195.30" cy="44.00" r="0.45" fill="#ff0000" stroke="none"/></g>
<g fill="none" stroke="#00ff00" stroke-width="0.7"><circle cx="195.30" cy="60.26" r="3.15"/><circle cx="195.30" cy="60.26" r="0.45" fill="#00ff00" stroke="none"/></g>
<g fill="none" stroke="#0000ff" stroke-width="0.7"><path d="M195.30,72.99 L192.15,78.10 L198.45,78.10 Z"/><circle cx="195.30" cy="76.52" r="0.45" fill="#0000ff" stroke="none"/></g>
<g fill="none" stroke="#b868ff" stroke-width="0.7"><path d="M195.30,96.31 L192.15,91.20 L198.45,91.20 Z"/><circle cx="195.30" cy="92.78" r="0.45" fill="#b868ff" stroke="none"/></g>
<g fill="none" stroke="#ffa500" stroke-width="0.7"><path d="M195.30,105.89 L192.15,109.04 L195.30,112.19 L198.45,109.04 Z"/><circle cx="195.30" cy="109.04" r="0.45" fill="#ffa500" stroke="none"/></g>
<g fill="none" stroke="#a52a2a" stroke-width="0.7"><path d="M195.30,122.15 L198.30,124.33 L197.15,127.85 L193.45,127.85 L192.30,124.33 Z"/><circle cx="195.30" cy="125.30" r="0.45" fill="#a52a2a" stroke="none"/></g>
<g class="tx">
<text transform="translate(114.5,47.90) scale(1.19,1)" font-size="16.3">W</text>
<path d="M133.3,41.60 h11.3 M133.3,44.60 h11.3" fill="none" stroke="#1a1a1a" stroke-width="0.8"/>
<text transform="translate(145.3,47.90) scale(1.07,1)" font-size="16">10</text>
<text transform="translate(114.5,64.16) scale(1.19,1)" font-size="16.3">W</text>
<path d="M133.3,57.86 h11.3 M133.3,60.86 h11.3" fill="none" stroke="#1a1a1a" stroke-width="0.8"/>
<text transform="translate(145.3,64.16) scale(1.07,1)" font-size="16">15</text>
<text transform="translate(114.5,80.42) scale(1.19,1)" font-size="16.3">W</text>
<path d="M133.3,74.12 h11.3 M133.3,77.12 h11.3" fill="none" stroke="#1a1a1a" stroke-width="0.8"/>
<text transform="translate(145.3,80.42) scale(1.07,1)" font-size="16">20</text>
<text transform="translate(114.5,96.68) scale(1.19,1)" font-size="16.3">W</text>
<path d="M133.3,90.38 h11.3 M133.3,93.38 h11.3" fill="none" stroke="#1a1a1a" stroke-width="0.8"/>
<text transform="translate(145.3,96.68) scale(1.07,1)" font-size="16">30</text>
<text transform="translate(114.5,112.94) scale(1.19,1)" font-size="16.3">W</text>
<path d="M133.3,106.64 h11.3 M133.3,109.64 h11.3" fill="none" stroke="#1a1a1a" stroke-width="0.8"/>
<text transform="translate(145.3,112.94) scale(1.07,1)" font-size="16">40</text>
<text transform="translate(114.5,129.20) scale(1.19,1)" font-size="16.3">W</text>
<path d="M133.3,122.90 h11.3 M133.3,125.90 h11.3" fill="none" stroke="#1a1a1a" stroke-width="0.8"/>
<text transform="translate(145.3,129.20) scale(1.07,1)" font-size="16">50</text>
<rect x="54.55" y="7.0" width="346.50" height="287.40" fill="none" stroke="#000" stroke-width="1.4"/>
<path d="M71.88,294.4 v-3.0 M71.88,7.0 v3.0 M54.55,280.03 h3.0 M401.05,280.03 h-3.0 M89.20,294.4 v-3.0 M89.20,7.0 v3.0 M54.55,265.66 h3.0 M401.05,265.66 h-3.0 M106.53,294.4 v-3.0 M106.53,7.0 v3.0 M54.55,251.29 h3.0 M401.05,251.29 h-3.0 M123.85,294.4 v-6.0 M123.85,7.0 v6.0 M54.55,236.92 h6.0 M401.05,236.92 h-6.0 M141.18,294.4 v-3.0 M141.18,7.0 v3.0 M54.55,222.55 h3.0 M401.05,222.55 h-3.0 M158.50,294.4 v-3.0 M158.50,7.0 v3.0 M54.55,208.18 h3.0 M401.05,208.18 h-3.0 M175.82,294.4 v-3.0 M175.82,7.0 v3.0 M54.55,193.81 h3.0 M401.05,193.81 h-3.0 M193.15,294.4 v-6.0 M193.15,7.0 v6.0 M54.55,179.44 h6.0 M401.05,179.44 h-6.0 M210.48,294.4 v-3.0 M210.48,7.0 v3.0 M54.55,165.07 h3.0 M401.05,165.07 h-3.0 M227.80,294.4 v-3.0 M227.80,7.0 v3.0 M54.55,150.70 h3.0 M401.05,150.70 h-3.0 M245.12,294.4 v-3.0 M245.12,7.0 v3.0 M54.55,136.33 h3.0 M401.05,136.33 h-3.0 M262.45,294.4 v-6.0 M262.45,7.0 v6.0 M54.55,121.96 h6.0 M401.05,121.96 h-6.0 M279.77,294.4 v-3.0 M279.77,7.0 v3.0 M54.55,107.59 h3.0 M401.05,107.59 h-3.0 M297.10,294.4 v-3.0 M297.10,7.0 v3.0 M54.55,93.22 h3.0 M401.05,93.22 h-3.0 M314.43,294.4 v-3.0 M314.43,7.0 v3.0 M54.55,78.85 h3.0 M401.05,78.85 h-3.0 M331.75,294.4 v-6.0 M331.75,7.0 v6.0 M54.55,64.48 h6.0 M401.05,64.48 h-6.0 M349.08,294.4 v-3.0 M349.08,7.0 v3.0 M54.55,50.11 h3.0 M401.05,50.11 h-3.0 M366.40,294.4 v-3.0 M366.40,7.0 v3.0 M54.55,35.74 h3.0 M401.05,35.74 h-3.0 M383.73,294.4 v-3.0 M383.73,7.0 v3.0 M54.55,21.37 h3.0 M401.05,21.37 h-3.0" fill="none" stroke="#000" stroke-width="1.1"/>
<text transform="translate(57.35,315.4) scale(1.09,1)" font-size="16" text-anchor="middle">0</text>
<text transform="translate(44.7,298.70) scale(1.09,1)" font-size="16" text-anchor="end">0</text>
<text transform="translate(126.65,315.4) scale(1.09,1)" font-size="16" text-anchor="middle">0.2</text>
<text transform="translate(44.7,241.22) scale(1.09,1)" font-size="16" text-anchor="end">0.2</text>
<text transform="translate(195.95,315.4) scale(1.09,1)" font-size="16" text-anchor="middle">0.4</text>
<text transform="translate(44.7,183.74) scale(1.09,1)" font-size="16" text-anchor="end">0.4</text>
<text transform="translate(265.25,315.4) scale(1.09,1)" font-size="16" text-anchor="middle">0.6</text>
<text transform="translate(44.7,126.26) scale(1.09,1)" font-size="16" text-anchor="end">0.6</text>
<text transform="translate(334.55,315.4) scale(1.09,1)" font-size="16" text-anchor="middle">0.8</text>
<text transform="translate(44.7,68.78) scale(1.09,1)" font-size="16" text-anchor="end">0.8</text>
<text transform="translate(403.85,315.4) scale(1.09,1)" font-size="16" text-anchor="middle">1</text>
<text transform="translate(44.7,11.30) scale(1.09,1)" font-size="16" text-anchor="end">1</text>
<g fill="#1a1a1a" stroke="none">
<path fill-rule="evenodd" d="M2.2,150.5 a3.3,5.55 0 1,0 6.6,0 a3.3,5.55 0 1,0 -6.6,0 Z M2.85,150.5 a2.65,3.95 0 1,0 5.3,0 a2.65,3.95 0 1,0 -5.3,0 Z"/>
<rect x="0" y="149.8" width="11.1" height="1.4"/>
<rect x="0.2" y="147.8" width="0.8" height="5.4"/>
<rect x="10.2" y="147.8" width="0.8" height="5.4"/>
</g>
<text transform="translate(216.6,339.2) scale(1.22,1)" font-size="15.6" font-style="italic">k</text>
<text transform="translate(226.4,341.9) scale(1.22,1)" font-size="13" font-style="italic">D</text>
</g>
</svg></body></html>
